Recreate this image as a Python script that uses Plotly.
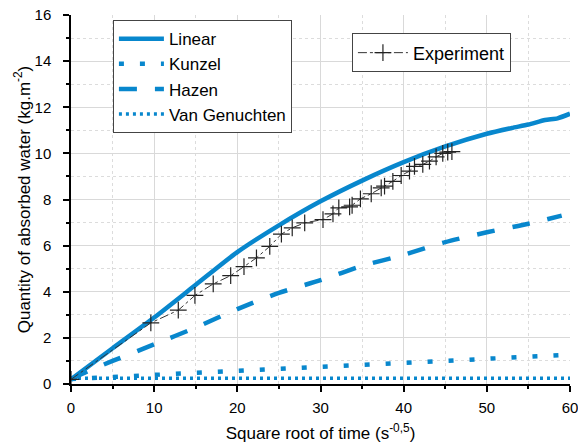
import plotly.graph_objects as go

# ---- data ----
linear_x = [0, 5, 10, 15, 20, 25, 30, 35, 40, 45, 50, 53, 55, 57, 58.5, 60]
linear_y = [0.2, 1.55, 2.88, 4.3, 5.72, 6.88, 7.92, 8.82, 9.62, 10.3, 10.85, 11.1, 11.25, 11.45, 11.52, 11.72]

kunzel_x = [0, 10, 20, 30, 40, 50, 59]
kunzel_y = [0.22, 0.4, 0.57, 0.75, 0.92, 1.09, 1.25]

hazen_x = [0, 2, 5, 10, 15, 20, 25, 30, 35, 40, 45, 50, 55, 59]
hazen_y = [0.2, 0.55, 1.0, 1.72, 2.45, 3.25, 3.95, 4.5, 5.12, 5.6, 6.15, 6.58, 6.95, 7.3]

vg_x = [0, 10, 20, 30, 40, 50, 60]
vg_y = [0.25, 0.25, 0.25, 0.25, 0.25, 0.25, 0.25]

exp_x = [0, 9.6, 12.9, 14.9, 17.1, 19.2, 20.8, 22.3, 23.9, 25.3, 26.6, 28.1, 30.3, 31.5,
         32.2, 33.5, 33.8, 34.8, 36.1, 37.3, 37.7, 38.7, 39.7, 40.7, 41.3, 42.3, 43.1,
         43.9, 44.7, 45.3, 45.8]
exp_y = [0.2, 2.65, 3.2, 3.84, 4.34, 4.7, 5.09, 5.47, 5.97, 6.5, 6.77, 6.99, 7.13, 7.38,
         7.64, 7.68, 7.75, 8.03, 8.25, 8.5, 8.58, 8.79, 9.04, 9.23, 9.44, 9.52, 9.66,
         9.85, 10.0, 10.05, 10.08]

x_ticks = [0, 10, 20, 30, 40, 50, 60]
y_ticks = [0, 2, 4, 6, 8, 10, 12, 14, 16]

BLUE = "#0887cd"
FONT = "Liberation Sans, Arial, sans-serif"

fig = go.Figure()
fig.add_trace(go.Scatter(x=linear_x, y=linear_y, mode="lines", name="Linear",
                         line=dict(color=BLUE, width=4.5, shape="spline", smoothing=0.6),
                         legend="legend"))
fig.add_trace(go.Scatter(x=kunzel_x, y=kunzel_y, mode="lines", name="Kunzel",
                         line=dict(color=BLUE, width=4.5, dash="5px,16px"),
                         legend="legend"))
fig.add_trace(go.Scatter(x=hazen_x, y=hazen_y, mode="lines", name="Hazen",
                         line=dict(color=BLUE, width=4.5, dash="18px,18px", shape="spline", smoothing=0.6),
                         legend="legend"))
fig.add_trace(go.Scatter(x=vg_x, y=vg_y, mode="lines", name="Van Genuchten",
                         line=dict(color=BLUE, width=3.5, dash="3px,4px"),
                         legend="legend"))
fig.add_trace(go.Scatter(x=exp_x, y=exp_y, mode="lines+markers", name="Experiment",
                         line=dict(color="#333333", width=1, dash="dashdot"),
                         marker=dict(symbol="cross-thin", size=12, color="#222222",
                                     line=dict(color="#222222", width=1.2)),
                         legend="legend2"))

axis_common = dict(
    showline=True, linecolor="black", linewidth=1.5, mirror=False,
    ticks="outside", ticklen=6, tickwidth=1.5, tickcolor="black",
    showgrid=True, gridcolor="#d9d9d9", gridwidth=1,
    zeroline=False, automargin=False, ticklabeloverflow="allow",
    tickfont=dict(family=FONT, size=15, color="black"),
)

fig.update_xaxes(
    range=[0, 60], tickvals=x_ticks, ticktext=[str(v) for v in x_ticks],
    ticklabelstandoff=3,
    title=dict(text="Square root of time (s<sup>-0,5</sup>)", font=dict(family=FONT, size=17, color="black"), standoff=12),
    minor=dict(dtick=5, tick0=0, ticks="outside", ticklen=3, tickwidth=1.5, tickcolor="black",
               showgrid=True, gridcolor="#dcdcdc", griddash="dot", gridwidth=1),
    **axis_common)
fig.update_yaxes(
    range=[0, 16], tickvals=y_ticks, ticktext=[str(v) for v in y_ticks],
    ticklabelstandoff=9,
    title=dict(text="Quantity of absorbed water (kg.m<sup>-2</sup>)", font=dict(family=FONT, size=17, color="black"), standoff=0),
    minor=dict(dtick=1, tick0=0, ticks="outside", ticklen=3, tickwidth=1.5, tickcolor="black",
               showgrid=True, gridcolor="#dcdcdc", griddash="dot", gridwidth=1),
    **axis_common)

fig.update_layout(
    width=578, height=444,
    margin=dict(l=71, r=8, t=15, b=60),
    paper_bgcolor="white", plot_bgcolor="white",
    font=dict(family=FONT, size=15, color="black"),
    legend=dict(x=0.084, y=0.986, xanchor="left", yanchor="top",
                bgcolor="white", bordercolor="#444444", borderwidth=1,
                font=dict(family=FONT, size=17, color="black"),
                itemwidth=45, tracegroupgap=0),
    legend2=dict(x=0.563, y=0.950, xanchor="left", yanchor="top",
                 bgcolor="white", bordercolor="#444444", borderwidth=1,
                 font=dict(family=FONT, size=18, color="black"),
                 itemwidth=50),
    showlegend=True,
)

fig.write_html("out.html", config={"displayModeBar": False},
               post_script="document.body.style.margin='0';")
